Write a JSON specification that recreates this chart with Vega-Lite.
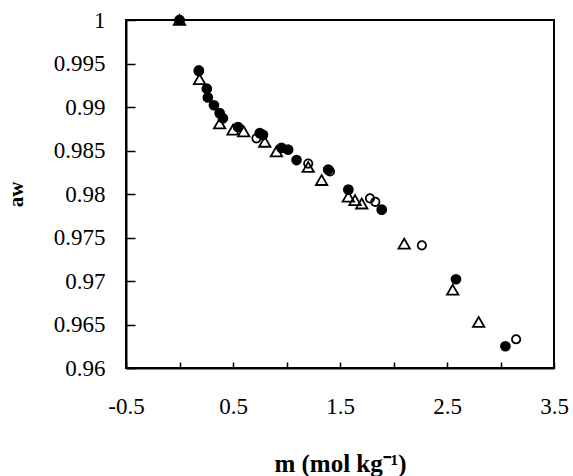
{
  "$schema": "https://vega.github.io/schema/vega-lite/v6.json",
  "width": 428,
  "height": 348,
  "autosize": {"type": "none"},
  "padding": {"left": 126, "top": 20, "right": 19, "bottom": 108},
  "background": "white",
  "config": {
    "view": {"stroke": "black", "strokeWidth": 2},
    "font": "Liberation Serif",
    "axis": {
      "grid": false,
      "domainColor": "black",
      "domainWidth": 2,
      "tickColor": "black",
      "tickWidth": 1.5,
      "labelFont": "Liberation Serif",
      "labelFontSize": 23,
      "labelColor": "black",
      "titleFont": "Liberation Serif",
      "titleColor": "black",
      "titleFontWeight": "bold"
    }
  },
  "data": {
    "values": [
      {"series": "tri", "m": 0.0, "aw": 1.0},
      {"series": "tri", "m": 0.187, "aw": 0.9932},
      {"series": "tri", "m": 0.375, "aw": 0.9881},
      {"series": "tri", "m": 0.5, "aw": 0.9874},
      {"series": "tri", "m": 0.6, "aw": 0.9872},
      {"series": "tri", "m": 0.797, "aw": 0.986},
      {"series": "tri", "m": 0.906, "aw": 0.9849},
      {"series": "tri", "m": 1.203, "aw": 0.9831},
      {"series": "tri", "m": 1.328, "aw": 0.9816},
      {"series": "tri", "m": 1.578, "aw": 0.9797},
      {"series": "tri", "m": 1.64, "aw": 0.9793},
      {"series": "tri", "m": 1.703, "aw": 0.9789},
      {"series": "tri", "m": 2.1, "aw": 0.9743},
      {"series": "tri", "m": 2.553, "aw": 0.969},
      {"series": "tri", "m": 2.796, "aw": 0.9653},
      {"series": "open", "m": 0.0, "aw": 1.0},
      {"series": "open", "m": 0.18, "aw": 0.9941},
      {"series": "open", "m": 0.719, "aw": 0.9864},
      {"series": "open", "m": 1.203, "aw": 0.9835},
      {"series": "open", "m": 1.406, "aw": 0.9826},
      {"series": "open", "m": 1.78, "aw": 0.9795},
      {"series": "open", "m": 1.83, "aw": 0.9791},
      {"series": "open", "m": 2.265, "aw": 0.9741},
      {"series": "open", "m": 3.146, "aw": 0.9633},
      {"series": "filled", "m": 0.0, "aw": 1.0},
      {"series": "filled", "m": 0.181, "aw": 0.9942},
      {"series": "filled", "m": 0.255, "aw": 0.9921},
      {"series": "filled", "m": 0.265, "aw": 0.9911},
      {"series": "filled", "m": 0.322, "aw": 0.9902},
      {"series": "filled", "m": 0.375, "aw": 0.9893},
      {"series": "filled", "m": 0.406, "aw": 0.9887},
      {"series": "filled", "m": 0.547, "aw": 0.9877},
      {"series": "filled", "m": 0.75, "aw": 0.987},
      {"series": "filled", "m": 0.78, "aw": 0.9868},
      {"series": "filled", "m": 0.953, "aw": 0.9853},
      {"series": "filled", "m": 1.015, "aw": 0.9851},
      {"series": "filled", "m": 1.094, "aw": 0.9839},
      {"series": "filled", "m": 1.39, "aw": 0.9828},
      {"series": "filled", "m": 1.578, "aw": 0.9805},
      {"series": "filled", "m": 1.89, "aw": 0.9782},
      {"series": "filled", "m": 2.584, "aw": 0.9702},
      {"series": "filled", "m": 3.046, "aw": 0.9625}
    ]
  },
  "encoding": {
    "x": {
      "field": "m",
      "type": "quantitative",
      "scale": {"domain": [-0.5, 3.5], "nice": false, "zero": false},
      "axis": {
        "title": "m (mol kg⁻¹)",
        "titleFontSize": 25,
        "titlePadding": 33,
        "values": [-0.5, 0, 0.5, 1, 1.5, 2, 2.5, 3, 3.5],
        "labelExpr": "abs(datum.value % 1) > 0.25 ? '' + datum.value : ''",
        "tickSize": -6,
        "labelPadding": 33,
        "labelFlush": false,
        "labelOverlap": false
      }
    },
    "y": {
      "field": "aw",
      "type": "quantitative",
      "scale": {"domain": [0.96, 1.0], "nice": false, "zero": false},
      "axis": {
        "title": "aw",
        "titleFontSize": 21,
        "titlePadding": 27,
        "values": [0.96, 0.965, 0.97, 0.975, 0.98, 0.985, 0.99, 0.995, 1.0],
        "format": ".3~f",
        "tickSize": -9,
        "labelPadding": 30,
        "labelFlush": false,
        "labelOverlap": false
      }
    }
  },
  "layer": [
    {
      "transform": [{"filter": "datum.series === 'tri'"}],
      "mark": {"type": "point", "shape": "triangle-up", "filled": false, "stroke": "black", "strokeWidth": 1.8, "size": 130, "opacity": 1}
    },
    {
      "transform": [{"filter": "datum.series === 'open'"}],
      "mark": {"type": "point", "shape": "circle", "filled": false, "stroke": "black", "strokeWidth": 1.8, "size": 70, "opacity": 1}
    },
    {
      "transform": [{"filter": "datum.series === 'filled'"}],
      "mark": {"type": "point", "shape": "circle", "filled": true, "fill": "black", "stroke": "black", "strokeWidth": 0, "size": 115, "opacity": 1}
    }
  ]
}
